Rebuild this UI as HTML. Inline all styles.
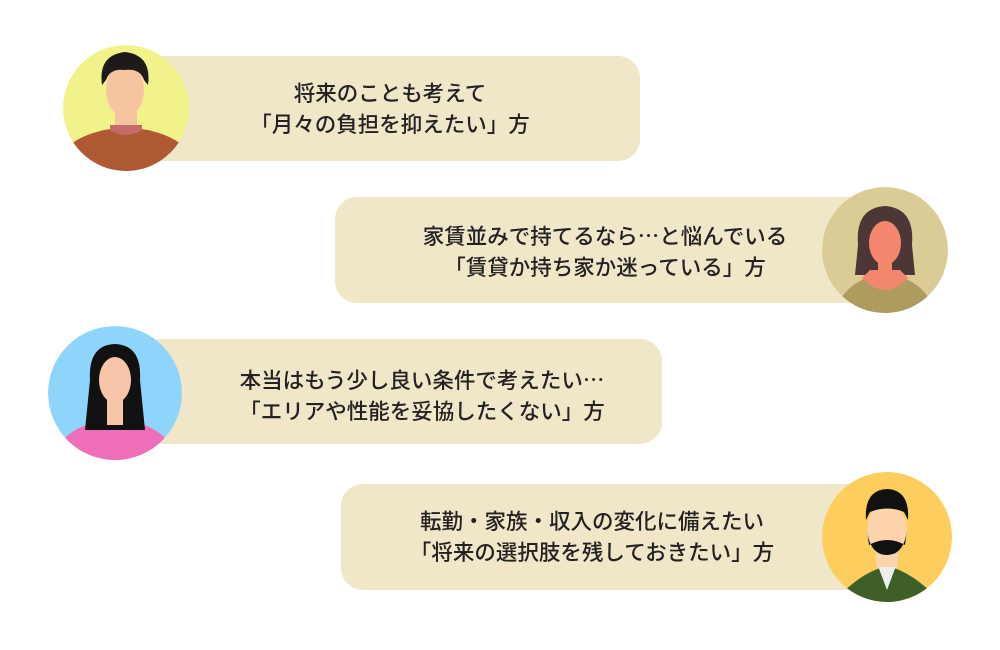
<!DOCTYPE html>
<html><head><meta charset="utf-8"><style>
body{margin:0;width:1000px;height:650px;background:#fff;position:relative;overflow:hidden;font-family:"Noto Sans CJK JP","Liberation Sans",sans-serif}
.b{position:absolute;background:#f0e6c8;border-radius:22px}
.t{position:absolute;text-align:center;font-size:21.5px;line-height:31px;color:#222;white-space:nowrap;font-weight:500}
svg{position:absolute;left:0;top:0}
</style></head><body>
<div class="b" style="left:140px;top:56px;width:500px;height:105px"></div>
<div class="b" style="left:335px;top:197px;width:570px;height:106px"></div>
<div class="b" style="left:140px;top:339px;width:522px;height:105px"></div>
<div class="b" style="left:341px;top:484px;width:560px;height:106px"></div>
<div class="t" style="left:190px;width:400px;top:77px">将来のことも考えて<br>「月々の負担を抑えたい」方</div>
<div class="t" style="left:405px;width:400px;top:220px">家賃並みで持てるなら…と悩んでいる<br>「賃貸か持ち家か迷っている」方</div>
<div class="t" style="left:222px;width:400px;top:364px">本当はもう少し良い条件で考えたい…<br>「エリアや性能を妥協したくない」方</div>
<div class="t" style="left:392px;width:400px;top:505px">転勤・家族・収入の変化に備えたい<br>「将来の選択肢を残しておきたい」方</div>
<svg width="1000" height="650">
<defs>
<clipPath id="c1"><circle cx="126" cy="108" r="63"/></clipPath>
<clipPath id="c2"><circle cx="885" cy="250" r="63"/></clipPath>
<clipPath id="c3"><circle cx="115" cy="393" r="67"/></clipPath>
<clipPath id="c4"><circle cx="887" cy="537" r="65"/></clipPath>
</defs>
<g clip-path="url(#c1)">
<circle cx="126" cy="108" r="63" fill="#f2f28a"/>
<ellipse cx="126" cy="170" rx="70" ry="42" fill="#ae5933"/>
<rect x="115" y="110" width="22" height="22" fill="#f7c4a0"/>
<path d="M110 130 Q126 140 142 130 L142 125 L110 125Z" fill="#c76a6a"/>
<ellipse cx="125" cy="90" rx="19" ry="27" fill="#f7c4a0"/>
<path d="M102 85 Q98 55 125 52 Q152 55 148 85 L144 80 Q140 68 125 70 Q110 68 106 80Z" fill="#1f1a1a"/>
</g>
<g clip-path="url(#c2)">
<circle cx="885" cy="250" r="63" fill="#dbcc96"/>
<path d="M858 245 Q855 208 885 206 Q915 208 912 245 L915 275 L855 275Z" fill="#4b3735"/>
<ellipse cx="885" cy="320" rx="50" ry="45" fill="#ae9b5e"/>
<path d="M862 278 Q885 302 908 278 L900 270 L870 270Z" fill="#f4866e"/>
<ellipse cx="885" cy="243" rx="16" ry="22" fill="#f4866e"/>
<rect x="878" y="258" width="14" height="16" fill="#f4866e"/>
</g>
<g clip-path="url(#c3)">
<circle cx="115" cy="393" r="67" fill="#8ed5fb"/>
<ellipse cx="115" cy="460" rx="60" ry="40" fill="#ee6eb8"/>
<path d="M90 380 Q88 345 115 344 Q142 345 140 380 L145 430 L85 430Z" fill="#111"/>
<rect x="107" y="395" width="16" height="30" fill="#f7c6a8"/>
<ellipse cx="115" cy="380" rx="16" ry="23" fill="#f7c6a8"/>
</g>
<g clip-path="url(#c4)">
<circle cx="887" cy="537" r="65" fill="#fdcd5d"/>
<path d="M840 595 Q860 575 880 568 L894 568 Q914 575 934 595 L934 610 L840 610Z" fill="#3f5f29"/>
<path d="M878 566 L896 566 L887 590Z" fill="#eee"/>
<rect x="876" y="545" width="22" height="22" fill="#fdd3ad"/>
<ellipse cx="887" cy="530" rx="20" ry="26" fill="#fdd3ad"/>
<path d="M867 530 Q870 555 887 555 Q904 555 907 530 L905 545 Q887 535 869 545Z" fill="#111"/>
<path d="M866 520 Q864 490 887 489 Q910 490 908 520 L904 512 Q887 505 870 512Z" fill="#111"/>
</g>
</svg>
</body></html>
